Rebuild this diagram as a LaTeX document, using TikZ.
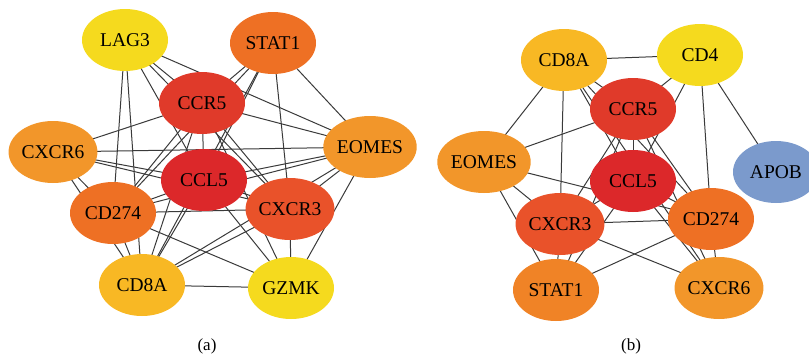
\documentclass[tikz,border=0pt]{standalone}
\usepackage{fontspec}
\setmainfont{Liberation Serif}
\usetikzlibrary{shapes.geometric,backgrounds}
\definecolor{cRedA}{HTML}{DC282A}
\definecolor{cRedB}{HTML}{E03A2A}
\definecolor{cRedOr}{HTML}{E9522A}
\definecolor{cOrDk}{HTML}{EE7024}
\definecolor{cOr}{HTML}{F08326}
\definecolor{cOrLt}{HTML}{F2962A}
\definecolor{cYOr}{HTML}{F8B824}
\definecolor{cYel}{HTML}{F5DA1E}
\definecolor{cBlue}{HTML}{7B9ACC}
\definecolor{cEdge}{HTML}{3A3A3A}
\tikzset{
  gene/.style={ellipse, minimum width=86pt, minimum height=62pt, inner sep=0pt,
    font=\fontsize{19.5}{21}\selectfont, text=black},
  edge/.style={draw=cEdge, line width=1pt},
  captext/.style={font=\fontsize{17}{19}\selectfont}
}
\begin{document}
\begin{tikzpicture}[x=1pt,y=-1pt]
\useasboundingbox (0,0) rectangle (809,362);
\clip (0,0) rectangle (809,362);
% panel (a)
\node[gene, fill=cYel]   (aL)  at (125,40)  {LAG3};
\node[gene, fill=cOrDk]  (aS)  at (273,43)  {STAT1};
\node[gene, fill=cRedB]  (aR)  at (202,103) {CCR5};
\node[gene, fill=cOrLt]  (aX6) at (53,152)  {CXCR6};
\node[gene, fill=cOrLt]  (aE)  at (370,147) {EOMES};
\node[gene, fill=cRedA]  (aC)  at (204,180) {CCL5};
\node[gene, fill=cRedOr] (aX3) at (290,209) {CXCR3};
\node[gene, fill=cOrDk]  (aP)  at (113,213) {CD274};
\node[gene, fill=cYOr]   (aA)  at (142,285) {CD8A};
\node[gene, fill=cYel]   (aG)  at (291,288) {GZMK};
% panel (b)
\node[gene, fill=cYOr]   (bA)  at (564,60)  {CD8A};
\node[gene, fill=cYel]   (bD)  at (700,55)  {CD4};
\node[gene, fill=cRedB]  (bR)  at (633,109) {CCR5};
\node[gene, fill=cOrLt]  (bE)  at (484,162) {EOMES};
\node[gene, fill=cBlue]  (bB)  at (776,172) {APOB};
\node[gene, fill=cRedA]  (bC)  at (633,181) {CCL5};
\node[gene, fill=cRedOr] (bX3) at (560,224) {CXCR3};
\node[gene, fill=cOrDk]  (bP)  at (711,219) {CD274};
\node[gene, fill=cOr]    (bS)  at (556,290) {STAT1};
\node[gene, fill=cOrLt]  (bX6) at (719,288) {CXCR6};
\begin{scope}[on background layer]
\foreach \u/\v in {aL/aP,aL/aA,aL/aR,aL/aC,aL/aE,aL/aX3,
  aS/aR,aS/aC,aS/aP,aS/aA,aS/aE,aS/aX3,
  aR/aX6,aR/aE,aR/aC,aR/aX3,aR/aP,aR/aA,aR/aG,
  aC/aX6,aC/aE,aC/aX3,aC/aP,aC/aA,aC/aG,
  aX6/aE,aX6/aX3,aX6/aP,aX6/aA,
  aE/aX3,aE/aA,aE/aG,aE/aP,
  aX3/aP,aX3/aA,aX3/aG,
  aP/aA,aP/aG,aA/aG}
  \draw[edge] (\u.center) -- (\v.center);
\foreach \u/\v in {bA/bD,bA/bE,bA/bR,bA/bC,bA/bX3,bA/bP,bA/bX6,
  bD/bB,bD/bR,bD/bC,bD/bP,
  bE/bR,bE/bX3,bE/bS,bE/bP,
  bR/bC,bR/bX3,bR/bP,bR/bS,bR/bX6,
  bC/bX3,bC/bP,bC/bS,bC/bX6,
  bX3/bP,bX3/bS,bX3/bX6,
  bS/bP,bP/bX6}
  \draw[edge] (\u.center) -- (\v.center);
\end{scope}
\node[captext] (capa) at (207,346) {(a)};
\node[captext] (capb) at (631,346) {(b)};
\end{tikzpicture}
\end{document}
